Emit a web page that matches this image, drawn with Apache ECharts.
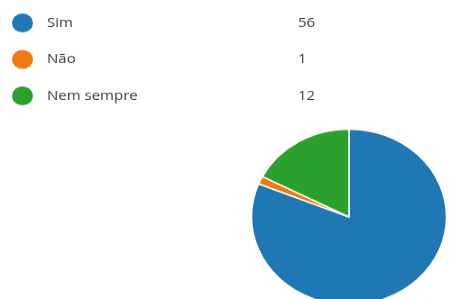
<!DOCTYPE html>
<html>
<head>
<meta charset="utf-8">
<script src="https://cdn.jsdelivr.net/npm/echarts@6/dist/echarts.min.js"></script>
<style>
html,body{margin:0;padding:0;background:#fff;overflow:hidden;width:450px;height:299px;}
#wrap{width:450px;height:299px;overflow:hidden;}
#chart{width:450px;height:332px;transform:scaleY(0.9);transform-origin:0 0;}
</style>
</head>
<body>
<div id="wrap"><div id="chart"></div></div>
<script>
const categories = ["Sim", "Não", "Nem sempre"];
const values = [56, 1, 12];
const colors = ["#1f77b4", "#f07a10", "#2ca02c"];

const chart = echarts.init(document.getElementById('chart'), null, {renderer: 'canvas'});
const data = categories.map((c, i) => ({name: c, value: values[i]}));
const txt = {fontFamily: 'Open Sans', fontSize: 15, color: '#3c3c3c'};
chart.setOption({
  animation: false,
  color: colors,
  legend: {
    orient: 'vertical',
    left: 12,
    top: 15,
    padding: 0,
    icon: 'circle',
    itemWidth: 21,
    itemHeight: 21,
    itemGap: 19.5,
    selectedMode: false,
    itemStyle: {borderWidth: 0},
    formatter: function (name) {
      const i = categories.indexOf(name);
      return '{n|' + name + '}{v|' + values[i] + '}';
    },
    textStyle: Object.assign({}, txt, {
      rich: {
        n: Object.assign({width: 251, padding: [0, 0, 0, 9]}, txt),
        v: Object.assign({}, txt)
      }
    })
  },
  series: [{
    type: 'pie',
    center: [349, 241],
    radius: 97.5,
    startAngle: 90,
    clockwise: true,
    label: {show: false},
    labelLine: {show: false},
    itemStyle: {borderColor: '#fff', borderWidth: 1.5},
    emphasis: {disabled: true},
    data: data
  }]
});
</script>
</body>
</html>
